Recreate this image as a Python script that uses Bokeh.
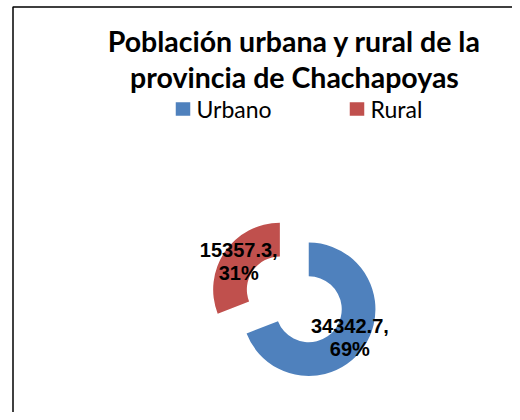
import math
from bokeh.plotting import figure
from bokeh.models import Range1d
from bokeh.core.properties import value
from bokeh.embed import file_html
from bokeh.resources import INLINE

# ---- data ----
categories = ["Urbano", "Rural"]
values = [34342.7, 15357.3]
colors = ["#4F81BD", "#C0504D"]
title_lines = ["Población urbana y rural de la", "provincia de Chachapoyas"]

# ---- layout (pixels of the picture, y down) ----
W, H = 512, 412
def sy(y):  # picture y (down) -> data y (up)
    return H - y

cx, cy = 293.8, 298.9          # donut centre
r_out, r_in = 66.7, 33.0
explode = 17.5

p = figure(width=W, height=H, output_backend="svg", toolbar_location=None,
           x_range=Range1d(0, W), y_range=Range1d(0, H),
           x_axis_location=None, y_axis_location=None, min_border=0)
p.grid.visible = False
p.outline_line_color = None
p.background_fill_color = "white"
p.border_fill_color = "white"

# chart border (left and top edges visible in reference)
p.line(x=[12.5, 12.5, W], y=[0, sy(6.5), sy(6.5)], line_color="black", line_width=1.5)

total = sum(values)
start = math.pi / 2
for cat, v, col in zip(categories, values, colors):
    sweep = 2 * math.pi * v / total
    end = start - sweep
    mid = start - sweep / 2
    ox = cx + explode * math.cos(mid)
    oy = sy(cy) + explode * math.sin(mid)
    p.annular_wedge(x=[ox], y=[oy], inner_radius=r_in, outer_radius=r_out,
                    start_angle=start, end_angle=end, direction="clock",
                    fill_color=col, line_color=None)
    rm = (r_in + r_out) / 2
    lx = ox + rm * math.cos(mid)
    ly = oy + rm * math.sin(mid)
    pct = f"{v / total * 100:.0f}%"
    for txt, dy in ((f"{v},", 11.5), (pct, -11.5)):
        p.text(x=[lx], y=[ly + dy], text=[txt], text_align="center",
               text_baseline="middle", text_font=value("Liberation Sans"),
               text_font_style="bold", text_font_size="20px", text_color="black")
    start = end

# title
for i, line in enumerate(title_lines):
    p.text(x=[294], y=[sy(40 + 36.2 * i)], text=[line], text_align="center",
           text_baseline="middle", text_font=value("Lato"),
           text_font_style="bold", text_font_size="28.5px", text_color="black")

# legend
leg_x = [175, 349]
for cat, col, lx0 in zip(categories, colors, leg_x):
    p.rect(x=[lx0 + 7.5], y=[sy(108.5)], width=14.5, height=13.5,
           fill_color=col, line_color=None)
    p.text(x=[lx0 + 21], y=[sy(108)], text=[cat], text_align="left",
           text_baseline="middle", text_font=value("Lato"),
           text_font_size="23px", text_color="black")

open("out.html", "w").write(file_html(p, INLINE))
